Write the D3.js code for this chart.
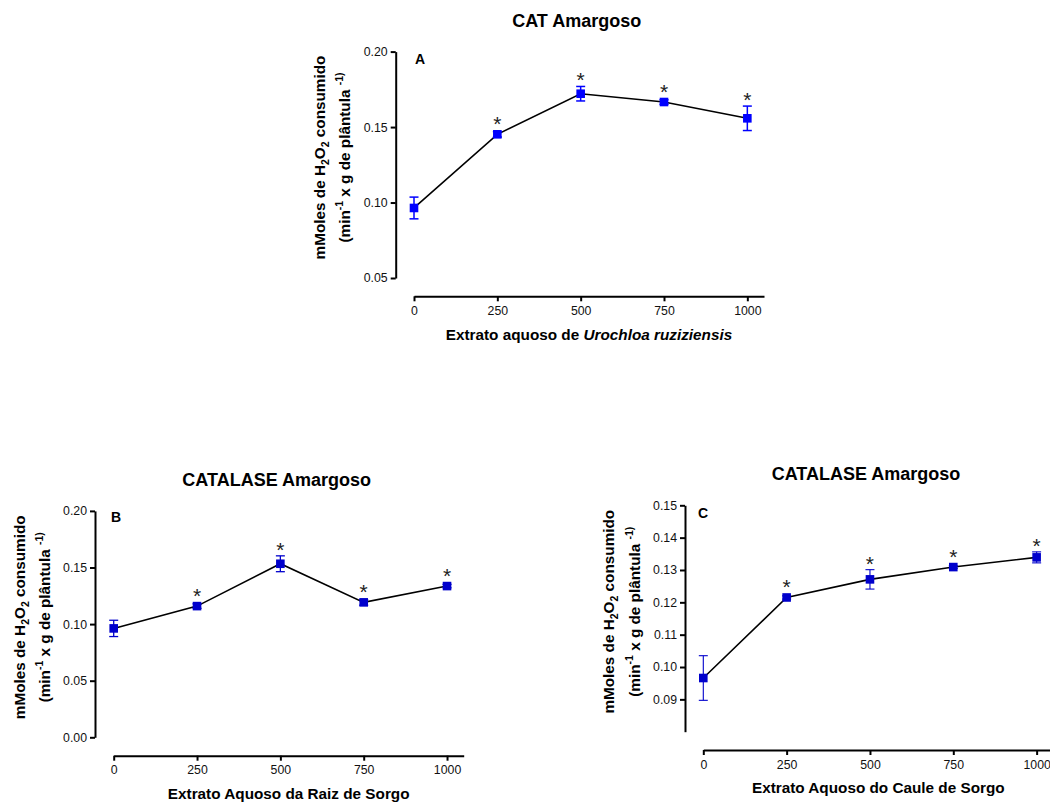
<!DOCTYPE html>
<html lang="pt">
<head>
<meta charset="UTF-8">
<title>CAT Amargoso</title>
<script src="https://d3js.org/d3.v7.min.js"></script>
<style>
  body { margin: 0; background: #fff; font-family: "Liberation Sans", Arial, sans-serif; }
  svg text { font-family: "Liberation Sans", Arial, sans-serif; }
</style>
</head>
<body>
<div id="chart"></div>
<script>
// doses of aqueous extract (x axis)
const doses = [0, 250, 500, 750, 1000];

// panel A - Urochloa ruziziensis
const catA = [0.0964, 0.1452, 0.1721, 0.1666, 0.1558];
const errA = [0.0072, 0.0018, 0.0048, 0.0015, 0.0081];
const sigA = [false, true, true, true, true];

// panel B - raiz de sorgo
const catB = [0.0962, 0.1159, 0.1533, 0.1192, 0.1336];
const errB = [0.0072, 0.0020, 0.0070, 0.0025, 0.0015];
const sigB = [false, true, true, true, true];

// panel C - caule de sorgo
const catC = [0.0966, 0.1215, 0.1271, 0.1309, 0.1339];
const errC = [0.0069, 0.0005, 0.0030, 0.0004, 0.0017];
const sigC = [false, true, true, true, true];

const ticksA = [0.05, 0.10, 0.15, 0.20];
const ticksB = [0.00, 0.05, 0.10, 0.15, 0.20];
const ticksC = [0.09, 0.10, 0.11, 0.12, 0.13, 0.14, 0.15];

const svg = d3.select("#chart").append("svg")
  .attr("width", 1050)
  .attr("height", 803);

function drawPanel(p) {
  const g = svg.append("g");

  const x = d3.scaleLinear().domain([0, 1050]).range([p.x0, p.x0 + 350]);
  const y = d3.scaleLinear().domain(p.yDomain).range([p.yBottom, p.yBottom - 226.4]);

  // y axis
  const yAxis = g.append("g")
    .attr("transform", `translate(${p.yAxisX},0)`)
    .call(d3.axisLeft(y).tickValues(p.yTicks).tickFormat(d3.format(p.yFmt)).tickSize(5).tickSizeOuter(0).tickPadding(3));
  // x axis, offset below the plot
  const xAxis = g.append("g")
    .attr("transform", `translate(0,${p.xAxisY})`)
    .call(d3.axisBottom(x).tickValues(doses).tickFormat(d3.format("d")).tickSize(5).tickSizeOuter(0).tickPadding(5));

  [yAxis, xAxis].forEach(a => {
    a.select(".domain").attr("stroke", "#000").attr("stroke-width", 2);
    a.selectAll(".tick line").attr("stroke", "#000").attr("stroke-width", 2);
    a.selectAll(".tick text").attr("font-size", 12.3).attr("fill", "#111");
  });

  const pts = doses.map((d, i) => ({ dose: d, v: p.values[i], e: p.errs[i], s: p.sig[i] }));

  // connecting line
  g.append("path")
    .datum(pts)
    .attr("fill", "none")
    .attr("stroke", "#000")
    .attr("stroke-width", 1.6)
    .attr("d", d3.line().x(d => x(d.dose)).y(d => y(d.v)));

  // error bars
  const eb = g.selectAll(".eb").data(pts).enter().append("g").attr("class", "eb")
    .attr("stroke", p.color).attr("stroke-width", p.errWidth);
  eb.append("line")
    .attr("x1", d => x(d.dose)).attr("x2", d => x(d.dose))
    .attr("y1", d => y(d.v - d.e)).attr("y2", d => y(d.v + d.e));
  eb.append("line")
    .attr("x1", d => x(d.dose) - 4.5).attr("x2", d => x(d.dose) + 4.5)
    .attr("y1", d => y(d.v + d.e)).attr("y2", d => y(d.v + d.e));
  eb.append("line")
    .attr("x1", d => x(d.dose) - 4.5).attr("x2", d => x(d.dose) + 4.5)
    .attr("y1", d => y(d.v - d.e)).attr("y2", d => y(d.v - d.e));

  // square markers
  g.selectAll(".pt").data(pts).enter().append("rect")
    .attr("x", d => x(d.dose) - 4.3)
    .attr("y", d => y(d.v) - 4.3)
    .attr("width", 8.6)
    .attr("height", 8.6)
    .attr("fill", p.color);

  // significance asterisks
  g.selectAll(".ast").data(pts.filter(d => d.s)).enter().append("text")
    .attr("x", d => x(d.dose))
    .attr("y", d => Math.min(y(d.v + d.e), y(d.v) - 4.3) + 1)
    .attr("text-anchor", "middle")
    .attr("font-size", 21)
    .attr("fill", "#222")
    .text("*");

  // title
  g.append("text")
    .attr("x", p.titleX).attr("y", p.titleY)
    .attr("text-anchor", "middle")
    .attr("font-size", 18).attr("font-weight", "bold")
    .text(p.title);

  // panel letter
  g.append("text")
    .attr("x", p.letterX).attr("y", p.letterY)
    .attr("font-size", 14).attr("font-weight", "bold")
    .text(p.letter);

  // x axis title
  const xt = g.append("text")
    .attr("x", p.x0 + 175).attr("y", p.xTitleY)
    .attr("text-anchor", "middle")
    .attr("font-size", 15.3).attr("font-weight", "bold");
  p.xTitle.forEach(s => xt.append("tspan").attr("font-style", s.italic ? "italic" : "normal").text(s.t));

  // y axis title, two lines
  const l1 = g.append("text")
    .attr("transform", `translate(${p.yl1},${p.ylY}) rotate(-90)`)
    .attr("text-anchor", "middle").attr("dy", "0.35em")
    .attr("font-size", 15.3).attr("font-weight", "bold");
  l1.append("tspan").text("mMoles de H");
  l1.append("tspan").attr("dy", 4).attr("font-size", 10.5).text("2");
  l1.append("tspan").attr("dy", -4).text("O");
  l1.append("tspan").attr("dy", 4).attr("font-size", 10.5).text("2");
  l1.append("tspan").attr("dy", -4).text(" consumido");

  const l2 = g.append("text")
    .attr("transform", `translate(${p.yl2},${p.ylY}) rotate(-90)`)
    .attr("text-anchor", "middle").attr("dy", "0.35em")
    .attr("font-size", 15.3).attr("font-weight", "bold");
  l2.append("tspan").text("(min");
  l2.append("tspan").attr("dy", -7).attr("font-size", 10.5).text("-1");
  l2.append("tspan").attr("dy", 7).text("  x g de plântula ");
  l2.append("tspan").attr("dy", -7).attr("font-size", 10.5).text("-1)");
}

drawPanel({
  values: catA, errs: errA, sig: sigA, color: "#0000FF", errWidth: 1.5,
  yDomain: [0.05, 0.20], yTicks: ticksA, yFmt: ".2f",
  x0: 414, yAxisX: 395.7, yBottom: 278, xAxisY: 296.3,
  title: "CAT Amargoso", titleX: 576.7, titleY: 26.7,
  letter: "A", letterX: 415, letterY: 64,
  xTitle: [{ t: "Extrato aquoso de ", italic: false }, { t: "Urochloa ruziziensis", italic: true }],
  xTitleY: 340,
  yl1: 320, yl2: 345, ylY: 157.5
});

drawPanel({
  values: catB, errs: errB, sig: sigB, color: "#0000CC", errWidth: 1.3,
  yDomain: [0.00, 0.20], yTicks: ticksB, yFmt: ".2f",
  x0: 113.7, yAxisX: 95, yBottom: 737.3, xAxisY: 755.7,
  title: "CATALASE Amargoso", titleX: 276.7, titleY: 486,
  letter: "B", letterX: 111, letterY: 521.7,
  xTitle: [{ t: "Extrato Aquoso da Raiz de Sorgo", italic: false }],
  xTitleY: 799.3,
  yl1: 19.3, yl2: 45, ylY: 617.3
});

drawPanel({
  values: catC, errs: errC, sig: sigC, color: "#0000CC", errWidth: 1.1,
  yDomain: [0.08, 0.15], yTicks: ticksC, yFmt: ".2f",
  x0: 703.3, yAxisX: 685, yBottom: 731.7, xAxisY: 750,
  title: "CATALASE Amargoso", titleX: 866, titleY: 480,
  letter: "C", letterX: 698, letterY: 517.7,
  xTitle: [{ t: "Extrato Aquoso do Caule de Sorgo", italic: false }],
  xTitleY: 793,
  yl1: 608.3, yl2: 634.3, ylY: 611.7
});
</script>
</body>
</html>
